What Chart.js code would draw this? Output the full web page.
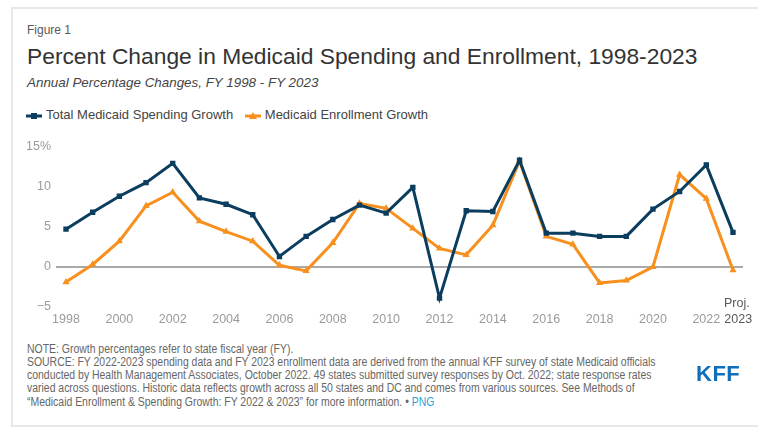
<!DOCTYPE html>
<html>
<head>
<meta charset="utf-8">
<script src="https://cdn.jsdelivr.net/npm/chart.js@4/dist/chart.umd.min.js"></script>
<style>
  html, body { margin:0; padding:0; background:#fff; width:768px; height:433px; overflow:hidden; font-family:"Liberation Sans", Arial, sans-serif; }
  .abs { position:absolute; white-space:nowrap; }
  #card { position:absolute; left:11px; top:7px; width:745px; height:416px; border:2px solid #e8e8e8; border-right:none; }
  #fig { left:27px; top:23.3px; font-size:12px; line-height:14px; color:#595959; }
  #title { left:27px; top:41.5px; font-size:22.8px; line-height:28px; color:#333; }
  #sub { left:27px; top:74.6px; font-size:13.4px; line-height:16px; color:#444; font-style:italic; }
  #legend { left:26px; top:106.5px; font-size:13px; line-height:16px; color:#444; }
  #legend span.item { display:inline-block; margin-right:8px; }
  #legend svg { vertical-align:-1px; margin-right:4px; }
  #notes { left:27px; top:342.5px; font-size:12px; line-height:13.33px; color:#666; transform:scaleX(0.87); transform-origin:0 0; }
  #notes a { color:#2a9fd6; text-decoration:none; }
  #kff { left:696px; top:361px; font-size:22px; line-height:26px; font-weight:bold; color:#0f6fba; letter-spacing:0.5px; }
  #proj { left:724px; top:296px; font-size:12.5px; line-height:15px; color:#595959; }
  #chart { position:absolute; left:0; top:124px; }
</style>
</head>
<body>
<div id="card"></div>
<div class="abs" id="fig">Figure 1</div>
<div class="abs" id="title">Percent Change in Medicaid Spending and Enrollment, 1998-2023</div>
<div class="abs" id="sub">Annual Percentage Changes, FY 1998 - FY 2023</div>
<div class="abs" id="legend">
  <span class="item"><svg width="16" height="8"><line x1="0" y1="4" x2="16" y2="4" stroke="#0b3d5f" stroke-width="3"/><rect x="5" y="1" width="6" height="6" fill="#0b3d5f"/></svg>Total Medicaid Spending Growth</span>
  <span class="item"><svg width="16" height="8"><line x1="0" y1="4" x2="16" y2="4" stroke="#f7901e" stroke-width="3"/><polygon points="8,0 12,7 4,7" fill="#f7901e"/></svg>Medicaid Enrollment Growth</span>
</div>
<canvas id="chart" width="768" height="207"></canvas>
<div class="abs" id="proj">Proj.</div>
<div class="abs" id="notes">NOTE: Growth percentages refer to state fiscal year (FY).<br>SOURCE: FY 2022-2023 spending data and FY 2023 enrollment data are derived from the annual KFF survey of state Medicaid officials<br>conducted by Health Management Associates, October 2022. 49 states submitted survey responses by Oct. 2022; state response rates<br>varied across questions. Historic data reflects growth across all 50 states and DC and comes from various sources. See Methods of<br>“Medicaid Enrollment &amp; Spending Growth: FY 2022 &amp; 2023” for more information. • <a>PNG</a></div>
<div class="abs" id="kff">KFF</div>
<script>
const years = ['1998','1999','2000','2001','2002','2003','2004','2005','2006','2007','2008','2009','2010','2011','2012','2013','2014','2015','2016','2017','2018','2019','2020','2021','2022','2023'];
const spendingGrowth = [4.7,6.8,8.8,10.5,12.9,8.6,7.8,6.5,1.3,3.8,5.9,7.7,6.7,9.9,-3.9,7.0,6.9,13.3,4.2,4.2,3.8,3.8,7.2,9.4,12.7,4.3];
const enrollmentGrowth = [-1.9,0.3,3.2,7.6,9.3,5.7,4.4,3.2,0.2,-0.5,3.0,7.9,7.3,4.8,2.3,1.5,5.2,13.2,3.8,2.8,-2.0,-1.7,0.0,11.5,8.5,-0.4];
const yTicks = [-5,0,5,10,15];
const xTickLabels = ['1998','2000','2002','2004','2006','2008','2010','2012','2014','2016','2018','2020','2022','2023'];

const BLUE = '#0b3d5f', ORANGE = '#f7901e';

const zeroLine = {
  id: 'zeroLine',
  beforeDatasetsDraw(chart) {
    const y = chart.scales.y.getPixelForValue(0);
    const a = chart.chartArea;
    const ctx = chart.ctx;
    ctx.save();
    ctx.strokeStyle = '#8c8c8c';
    ctx.lineWidth = 1.5;
    ctx.beginPath();
    ctx.moveTo(a.left - 10, y);
    ctx.lineTo(a.right + 10, y);
    ctx.stroke();
    ctx.restore();
  }
};

new Chart(document.getElementById('chart'), {
  type: 'line',
  data: {
    labels: years,
    datasets: [
      { label: 'Total Medicaid Spending Growth', data: spendingGrowth, borderColor: BLUE, backgroundColor: BLUE,
        borderWidth: 3, pointStyle: 'rect', pointRadius: 3.8, pointBorderWidth: 0, tension: 0 },
      { label: 'Medicaid Enrollment Growth', data: enrollmentGrowth, borderColor: ORANGE, backgroundColor: ORANGE,
        borderWidth: 3, pointStyle: 'triangle', pointRadius: 4.2, pointBorderWidth: 0, tension: 0 }
    ]
  },
  options: {
    responsive: false,
    devicePixelRatio: 1,
    animation: false,
    layout: { padding: { left: 0, right: 35, top: 9, bottom: 0 } },
    plugins: { legend: { display: false }, tooltip: { enabled: false } },
    scales: {
      x: {
        grid: { display: false, drawTicks: false },
        border: { display: false },
        afterFit(s) { s.height = 24; },
        ticks: {
          autoSkip: false, maxRotation: 0, padding: 5,
          font: { family: 'Liberation Sans', size: 12.5 },
          color: (c) => (c.tick && c.tick.label && String(c.tick.label).trim() === '2023') ? '#595959' : '#9a9a9a',
          callback(v, i) {
            const lab = years[i];
            if (!xTickLabels.includes(lab)) return '';
            return lab === '2023' ? '   ' + lab : lab;
          }
        }
      },
      y: {
        min: -5, max: 15,
        grid: { display: false, drawTicks: false },
        border: { display: false },
        afterFit(s) { s.width = 66; },
        afterBuildTicks(s) { s.ticks = yTicks.map(v => ({ value: v })); },
        ticks: {
          padding: 15,
          font: { family: 'Liberation Sans', size: 12.5 },
          color: '#9a9a9a',
          callback(v) { return v === 15 ? '15%' : (v < 0 ? '\u2212' + Math.abs(v) : String(v)); }
        }
      }
    }
  },
  plugins: [zeroLine]
});
</script>
</body>
</html>
